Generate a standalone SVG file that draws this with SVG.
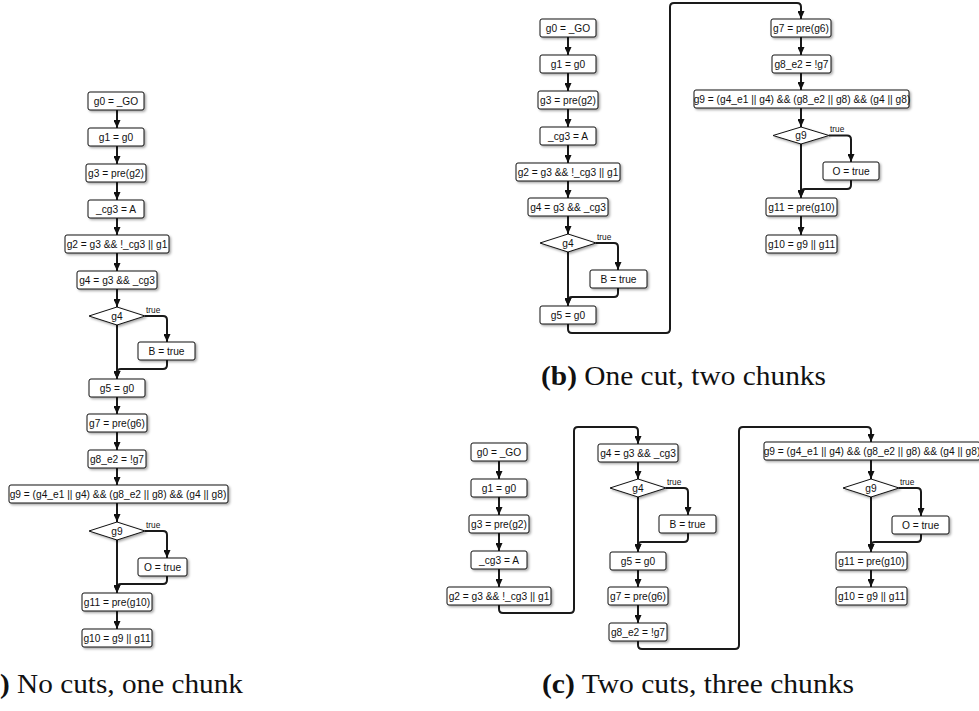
<svg xmlns="http://www.w3.org/2000/svg" width="979" height="711" viewBox="0 0 979 711">
<defs>
<filter id="sh" x="-10%" y="-30%" width="130%" height="180%"><feDropShadow dx="1.5" dy="1.5" stdDeviation="0.8" flood-color="#000" flood-opacity="0.35"/></filter>
<marker id="arr" viewBox="0 0 8 7" refX="8" refY="3.5" markerWidth="8" markerHeight="7" markerUnits="userSpaceOnUse" orient="auto"><path d="M0,0 L8,3.5 L0,7 Z" fill="#111"/></marker>
</defs>
<style>
.n rect,.n path{fill:#fff;stroke:#111;stroke-width:1;filter:url(#sh)}
.n text{font-family:"Liberation Sans",Arial,sans-serif;font-size:10.2px;text-anchor:middle;fill:#111}
.c path{fill:none;stroke:#1a1a1a;stroke-width:2;stroke-linejoin:round}
.c .a{marker-end:url(#arr)}
.t{font-family:"Liberation Sans",Arial,sans-serif;font-size:8.3px;fill:#111}
.cap{font-family:"Liberation Serif","Times New Roman",serif;font-size:27px;fill:#111}
</style>
<rect width="979" height="711" fill="#fff"/>

<!-- connectors -->
<g id="connectors" class="c">
<!-- (a) -->
<path class="a" d="M117,110V128"/>
<path class="a" d="M117,146V164"/>
<path class="a" d="M117,182V200"/>
<path class="a" d="M117,218V235"/>
<path class="a" d="M117,253V271"/>
<path class="a" d="M117,289V307"/>
<path class="a" d="M117,325V379"/>
<path class="a" d="M145,316H163Q167,316 167,320V342"/>
<path class="a" d="M167,360V365Q167,369 163,369H121Q117,369 117,373V379"/>
<path class="a" d="M117,397V414"/>
<path class="a" d="M117,432V450"/>
<path class="a" d="M117,468V485"/>
<path class="a" d="M117,503V522"/>
<path class="a" d="M117,540V593"/>
<path class="a" d="M145,531H163Q167,531 167,535V558"/>
<path class="a" d="M167,576V580Q167,584 163,584H121Q117,584 117,588V593"/>
<path class="a" d="M117,611V629"/>
<!-- (b) -->
<path class="a" d="M568,37V55"/>
<path class="a" d="M568,73V91"/>
<path class="a" d="M568,109V127"/>
<path class="a" d="M568,145V163"/>
<path class="a" d="M568,181V198"/>
<path class="a" d="M568,216V234"/>
<path class="a" d="M568,252V306"/>
<path class="a" d="M596,243H614Q618,243 618,247V270"/>
<path class="a" d="M618,288V293Q618,297 614,297H572Q568,297 568,301V306"/>
<path class="a" d="M568,324V329Q568,333 572,333H666Q670,333 670,329V7Q670,3 674,3H797Q801,3 801,7V19"/>
<path class="a" d="M801,37V55"/>
<path class="a" d="M801,73V90"/>
<path class="a" d="M801,108V127"/>
<path class="a" d="M801,144V198"/>
<path class="a" d="M829,135.5H847Q851,135.5 851,139.5V162"/>
<path class="a" d="M851,180V185Q851,189 847,189H805Q801,189 801,193V198"/>
<path class="a" d="M801,216V235"/>
<!-- (c) -->
<path class="a" d="M499,461V479"/>
<path class="a" d="M499,497V515"/>
<path class="a" d="M499,533V551"/>
<path class="a" d="M499,569V587"/>
<path class="a" d="M499,605V609Q499,613 503,613H570Q574,613 574,609V431Q574,427 578,427H634Q638,427 638,431V444"/>
<path class="a" d="M638,462V479"/>
<path class="a" d="M638,497V552"/>
<path class="a" d="M666,488H684Q688,488 688,492V515"/>
<path class="a" d="M688,533V538Q688,542 684,542H642Q638,542 638,546V552"/>
<path class="a" d="M638,570V587"/>
<path class="a" d="M638,605V623"/>
<path class="a" d="M638,641V645Q638,649 642,649H735Q739,649 739,645V431Q739,427 743,427H867Q871,427 871,431V442"/>
<path class="a" d="M871,460V479"/>
<path class="a" d="M871,497V552"/>
<path class="a" d="M899,488H917Q921,488 921,492V516"/>
<path class="a" d="M921,534V538Q921,542 917,542H875Q871,542 871,546V552"/>
<path class="a" d="M871,570V587"/>
</g>

<!-- true labels -->
<g id="labels">
<text class="t" x="146" y="313">true</text>
<text class="t" x="146" y="528">true</text>
<text class="t" x="597" y="240">true</text>
<text class="t" x="830" y="132">true</text>
<text class="t" x="667" y="485">true</text>
<text class="t" x="900" y="485">true</text>
</g>

<!-- (a) nodes -->
<g id="a-g0" class="n"><rect x="88" y="92" width="56" height="18" rx="2"/><text x="116" y="104.8">g0 = _GO</text></g>
<g id="a-g1" class="n"><rect x="88" y="128" width="56" height="18" rx="2"/><text x="116" y="140.8">g1 = g0</text></g>
<g id="a-g3" class="n"><rect x="86" y="164" width="60" height="18" rx="2"/><text x="116" y="176.8">g3 = pre(g2)</text></g>
<g id="a-cg3" class="n"><rect x="88" y="200" width="56" height="18" rx="2"/><text x="116" y="212.8">_cg3 = A</text></g>
<g id="a-g2" class="n"><rect x="65" y="235" width="104" height="18" rx="2"/><text x="117" y="247.8">g2 = g3 &amp;&amp; !_cg3 || g1</text></g>
<g id="a-g4" class="n"><rect x="77" y="271" width="80" height="18" rx="2"/><text x="117" y="283.8">g4 = g3 &amp;&amp; _cg3</text></g>
<g id="a-d4" class="n"><path d="M89,316L117,307L145,316L117,325Z"/><text x="117" y="319.6">g4</text></g>
<g id="a-b" class="n"><rect x="138" y="342" width="57" height="18" rx="2"/><text x="166.5" y="354.8">B = true</text></g>
<g id="a-g5" class="n"><rect x="89" y="379" width="56" height="18" rx="2"/><text x="117" y="391.8">g5 = g0</text></g>
<g id="a-g7" class="n"><rect x="87" y="414" width="60" height="18" rx="2"/><text x="117" y="426.8">g7 = pre(g6)</text></g>
<g id="a-g8" class="n"><rect x="88" y="450" width="58" height="18" rx="2"/><text x="117" y="462.8">g8_e2 = !g7</text></g>
<g id="a-g9" class="n"><rect x="9" y="485" width="219" height="18" rx="2"/><text x="118" y="497.8">g9 = (g4_e1 || g4) &amp;&amp; (g8_e2 || g8) &amp;&amp; (g4 || g8)</text></g>
<g id="a-d9" class="n"><path d="M89,531L117,522L145,531L117,540Z"/><text x="117" y="534.6">g9</text></g>
<g id="a-o" class="n"><rect x="138" y="558" width="49" height="18" rx="2"/><text x="162.5" y="570.8">O = true</text></g>
<g id="a-g11" class="n"><rect x="82" y="593" width="70" height="18" rx="2"/><text x="117" y="605.8">g11 = pre(g10)</text></g>
<g id="a-g10" class="n"><rect x="82" y="629" width="70" height="18" rx="2"/><text x="117" y="641.8">g10 = g9 || g11</text></g>

<!-- (b) nodes -->
<g id="b-g0" class="n"><rect x="540" y="19" width="56" height="18" rx="2"/><text x="568" y="31.8">g0 = _GO</text></g>
<g id="b-g1" class="n"><rect x="540" y="55" width="56" height="18" rx="2"/><text x="568" y="67.8">g1 = g0</text></g>
<g id="b-g3" class="n"><rect x="538" y="91" width="60" height="18" rx="2"/><text x="568" y="103.8">g3 = pre(g2)</text></g>
<g id="b-cg3" class="n"><rect x="540" y="127" width="56" height="18" rx="2"/><text x="568" y="139.8">_cg3 = A</text></g>
<g id="b-g2" class="n"><rect x="516" y="163" width="104" height="18" rx="2"/><text x="568" y="175.8">g2 = g3 &amp;&amp; !_cg3 || g1</text></g>
<g id="b-g4" class="n"><rect x="528" y="198" width="80" height="18" rx="2"/><text x="568" y="210.8">g4 = g3 &amp;&amp; _cg3</text></g>
<g id="b-d4" class="n"><path d="M540,243L568,234L596,243L568,252Z"/><text x="568" y="246.6">g4</text></g>
<g id="b-b" class="n"><rect x="590" y="270" width="57" height="18" rx="2"/><text x="618.5" y="282.8">B = true</text></g>
<g id="b-g5" class="n"><rect x="540" y="306" width="56" height="18" rx="2"/><text x="568" y="318.8">g5 = g0</text></g>
<g id="b-g7" class="n"><rect x="771" y="19" width="60" height="18" rx="2"/><text x="801" y="31.8">g7 = pre(g6)</text></g>
<g id="b-g8" class="n"><rect x="772" y="55" width="59" height="18" rx="2"/><text x="801.5" y="67.8">g8_e2 = !g7</text></g>
<g id="b-g9" class="n"><rect x="694" y="90" width="215" height="18" rx="2"/><text x="802" y="102.8">g9 = (g4_e1 || g4) &amp;&amp; (g8_e2 || g8) &amp;&amp; (g4 || g8)</text></g>
<g id="b-d9" class="n"><path d="M773,135.5L801,127L829,135.5L801,144Z"/><text x="801" y="139.1">g9</text></g>
<g id="b-o" class="n"><rect x="823" y="162" width="56" height="18" rx="2"/><text x="851" y="174.8">O = true</text></g>
<g id="b-g11" class="n"><rect x="766" y="198" width="71" height="18" rx="2"/><text x="801.5" y="210.8">g11 = pre(g10)</text></g>
<g id="b-g10" class="n"><rect x="766" y="235" width="71" height="18" rx="2"/><text x="801.5" y="247.8">g10 = g9 || g11</text></g>

<!-- (c) nodes -->
<g id="c-g0" class="n"><rect x="471" y="443" width="56" height="18" rx="2"/><text x="499" y="455.8">g0 = _GO</text></g>
<g id="c-g1" class="n"><rect x="471" y="479" width="56" height="18" rx="2"/><text x="499" y="491.8">g1 = g0</text></g>
<g id="c-g3" class="n"><rect x="469" y="515" width="60" height="18" rx="2"/><text x="499" y="527.8">g3 = pre(g2)</text></g>
<g id="c-cg3" class="n"><rect x="471" y="551" width="56" height="18" rx="2"/><text x="499" y="563.8">_cg3 = A</text></g>
<g id="c-g2" class="n"><rect x="447" y="587" width="104" height="18" rx="2"/><text x="499" y="599.8">g2 = g3 &amp;&amp; !_cg3 || g1</text></g>
<g id="c-g4" class="n"><rect x="598" y="444" width="80" height="18" rx="2"/><text x="638" y="456.8">g4 = g3 &amp;&amp; _cg3</text></g>
<g id="c-d4" class="n"><path d="M610,488L638,479L666,488L638,497Z"/><text x="638" y="491.6">g4</text></g>
<g id="c-b" class="n"><rect x="659" y="515" width="57" height="18" rx="2"/><text x="687.5" y="527.8">B = true</text></g>
<g id="c-g5" class="n"><rect x="610" y="552" width="56" height="18" rx="2"/><text x="638" y="564.8">g5 = g0</text></g>
<g id="c-g7" class="n"><rect x="608" y="587" width="60" height="18" rx="2"/><text x="638" y="599.8">g7 = pre(g6)</text></g>
<g id="c-g8" class="n"><rect x="609" y="623" width="58" height="18" rx="2"/><text x="638" y="635.8">g8_e2 = !g7</text></g>
<g id="c-g9" class="n"><rect x="764" y="442" width="216" height="18" rx="2"/><text x="872" y="454.8">g9 = (g4_e1 || g4) &amp;&amp; (g8_e2 || g8) &amp;&amp; (g4 || g8)</text></g>
<g id="c-d9" class="n"><path d="M843,488L871,479L899,488L871,497Z"/><text x="871" y="491.6">g9</text></g>
<g id="c-o" class="n"><rect x="892" y="516" width="57" height="18" rx="2"/><text x="920.5" y="528.8">O = true</text></g>
<g id="c-g11" class="n"><rect x="836" y="552" width="71" height="18" rx="2"/><text x="871.5" y="564.8">g11 = pre(g10)</text></g>
<g id="c-g10" class="n"><rect x="836" y="587" width="71" height="18" rx="2"/><text x="871.5" y="599.8">g10 = g9 || g11</text></g>

<!-- captions -->
<text class="cap" x="0" y="693" textLength="243" lengthAdjust="spacingAndGlyphs"><tspan font-weight="bold">)</tspan> No cuts, one chunk</text>
<text class="cap" x="541" y="385" textLength="285" lengthAdjust="spacingAndGlyphs"><tspan font-weight="bold">(b)</tspan> One cut, two chunks</text>
<text class="cap" x="542" y="693" textLength="312" lengthAdjust="spacingAndGlyphs"><tspan font-weight="bold">(c)</tspan> Two cuts, three chunks</text>
</svg>
